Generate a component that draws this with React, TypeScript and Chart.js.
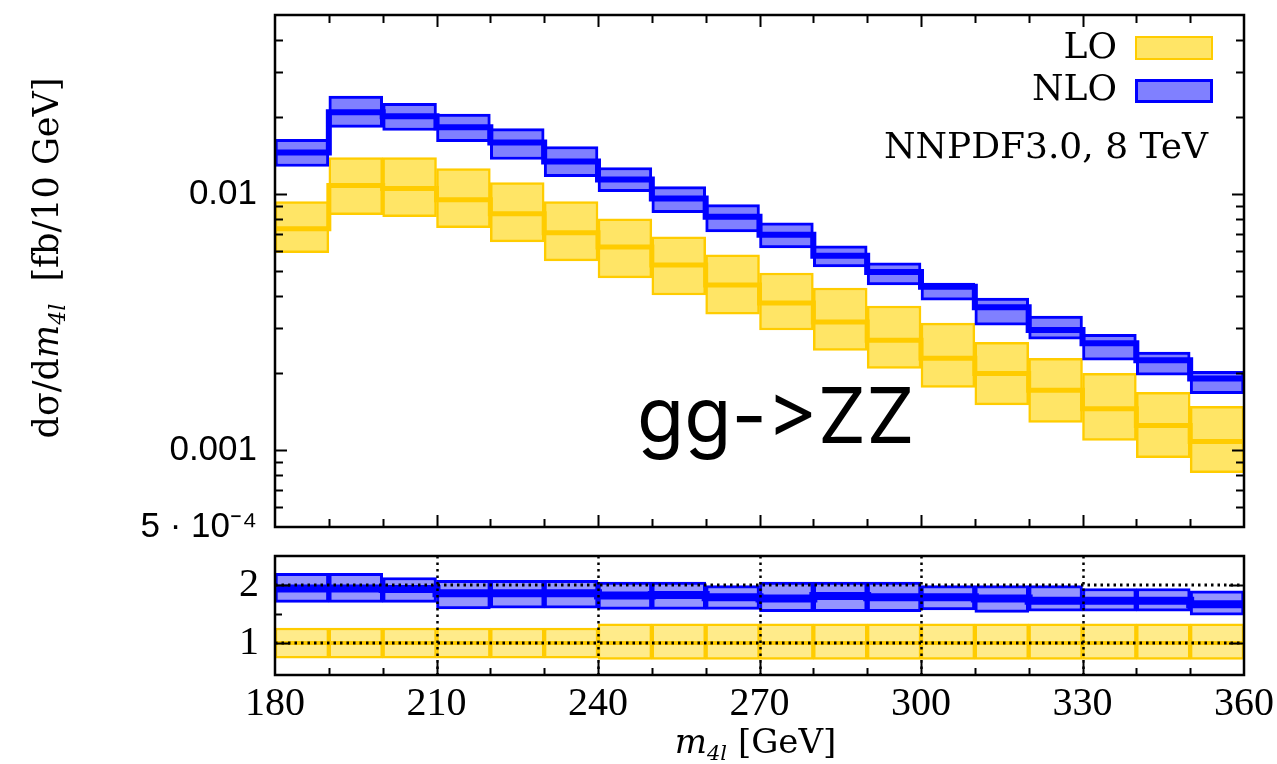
import React, { useEffect, useRef } from 'react';
import { Chart, registerables } from 'chart.js';

Chart.register(...registerables);

// ---------- data ----------
const binLow = [180, 190, 200, 210, 220, 230, 240, 250, 260, 270, 280, 290, 300, 310, 320, 330, 340, 350];
const binWidth = 10;
const xMin = 180;
const xMax = 360;

const loHigh = [0.00933, 0.01388, 0.01388, 0.01257, 0.01107, 0.00933, 0.0080, 0.0068, 0.00578, 0.00491, 0.00429, 0.00365, 0.00313, 0.00263, 0.00228, 0.00199, 0.00168, 0.00148];
const loCenter = [0.00731, 0.01078, 0.01049, 0.0095, 0.00837, 0.00705, 0.00621, 0.00528, 0.00441, 0.00375, 0.00316, 0.00268, 0.00228, 0.00199, 0.00171, 0.00145, 0.001245, 0.001078];
const loLow = [0.00589, 0.0083, 0.00815, 0.00738, 0.0065, 0.00548, 0.0047, 0.00403, 0.00339, 0.00294, 0.00245, 0.00208, 0.001755, 0.0015, 0.00128, 0.00109, 0.000933, 0.000815];

const nloHigh = [0.01633, 0.0241, 0.0226, 0.0205, 0.018, 0.01532, 0.01268, 0.01068, 0.00908, 0.00772, 0.00627, 0.00538, 0.00449, 0.00392, 0.00333, 0.00283, 0.00241, 0.00203];
const nloCenter = [0.01452, 0.02084, 0.0201, 0.0182, 0.0159, 0.0134, 0.01138, 0.00959, 0.00815, 0.00693, 0.00573, 0.00496, 0.00434, 0.00361, 0.00294, 0.00261, 0.00224, 0.0019];
const nloLow = [0.0128, 0.0182, 0.0177, 0.016, 0.01363, 0.01169, 0.0102, 0.00845, 0.00711, 0.00616, 0.00519, 0.00441, 0.00385, 0.00307, 0.00271, 0.00224, 0.00196, 0.00166];

const ratioLoHigh = [1.26, 1.26, 1.26, 1.26, 1.26, 1.26, 1.33, 1.33, 1.33, 1.33, 1.33, 1.33, 1.33, 1.33, 1.33, 1.33, 1.33, 1.33];
const ratioLoCenter = [1, 1, 1, 1, 1, 1, 1, 1, 1, 1, 1, 1, 1, 1, 1, 1, 1, 1];
const ratioLoLow = [0.74, 0.74, 0.74, 0.74, 0.74, 0.74, 0.72, 0.72, 0.72, 0.72, 0.72, 0.72, 0.72, 0.72, 0.72, 0.72, 0.72, 0.72];

const ratioNloHigh = [2.2, 2.2, 2.13, 2.08, 2.08, 2.08, 2.05, 2.05, 1.99, 2.05, 2.05, 2.05, 1.99, 1.99, 1.99, 1.94, 1.94, 1.9];
const ratioNloCenter = [1.94, 1.94, 1.93, 1.86, 1.86, 1.86, 1.82, 1.83, 1.79, 1.77, 1.81, 1.79, 1.79, 1.77, 1.73, 1.73, 1.73, 1.67];
const ratioNloLow = [1.7, 1.7, 1.7, 1.59, 1.6, 1.6, 1.58, 1.58, 1.58, 1.54, 1.54, 1.54, 1.57, 1.53, 1.55, 1.55, 1.55, 1.48];

const xTickLabels = [180, 210, 240, 270, 300, 330, 360];
const xMinorTicks = [190, 200, 220, 230, 250, 260, 280, 290, 310, 320, 340, 350];
const yLabelTicks = [0.0005, 0.001, 0.01];
const yLabelText = ['5 · 10⁻⁴', '0.001', '0.01'];
const yMajorTicks = [0.001, 0.01];
const yMinorTicks = [0.0006, 0.0007, 0.0008, 0.0009, 0.002, 0.003, 0.004, 0.005, 0.006, 0.007, 0.008, 0.009, 0.02, 0.03, 0.04];
const yMin = 0.0005;
const yMax = 0.05;

const ratioTicks = [1, 2];
const ratioMinorTicks = [1.5];
const ratioRefLines = [1, 2];
const ratioGridX = [210, 240, 270, 300, 330];
const ratioMin = 0.45;
const ratioMax = 2.5;

const legendLabels = ['LO', 'NLO'];
const pdfLabel = 'NNPDF3.0, 8 TeV';
const processLabelParts = ['gg-', '>ZZ']; // "gg->ZZ", drawn in two pieces so the font does not turn "->" into an arrow

// ---------- styles ----------
const YEL = '#ffcc00';
const YEL_FILL = '#ffe566';
const YEL_FILL_R = '#ffeb8a';
const BLU = '#0000ff';
const BLU_FILL = '#8080ff';
const BLU_FILL_R = '#9494ff';
const SERIF = '"DejaVu Serif", serif';

const boxData = (lo: number[], hi: number[]) =>
  binLow.map((x0, i) => ({ x: x0 + binWidth / 2, y: [lo[i], hi[i]] }));
const stepData = (c: number[]) => [
  ...binLow.map((x0, i) => ({ x: x0, y: c[i] })),
  { x: xMax, y: c[c.length - 1] },
];

function boxDataset(lo: number[], hi: number[], fill: string, border: string, bw: number, order: number) {
  return {
    type: 'bar' as const,
    data: boxData(lo, hi) as any,
    backgroundColor: fill,
    borderColor: border,
    borderWidth: bw,
    borderSkipped: false,
    grouped: false,
    barPercentage: 1,
    categoryPercentage: 1,
    order,
  };
}
function stepDataset(c: number[], color: string, bw: number, order: number) {
  return {
    type: 'line' as const,
    data: stepData(c) as any,
    borderColor: color,
    borderWidth: bw,
    stepped: 'before' as const,
    pointRadius: 0,
    fill: false,
    order,
  };
}

function ticksV(ctx: CanvasRenderingContext2D, scale: any, area: any, vals: number[], len: number, left = true, right = true) {
  vals.forEach((v) => {
    const y = Math.round(scale.getPixelForValue(v)) + 0.5;
    if (left) { ctx.moveTo(area.left, y); ctx.lineTo(area.left + len, y); }
    if (right) { ctx.moveTo(area.right, y); ctx.lineTo(area.right - len, y); }
  });
}
function ticksH(ctx: CanvasRenderingContext2D, scale: any, area: any, vals: number[], len: number, top = true, bottom = true) {
  vals.forEach((v) => {
    const x = Math.round(scale.getPixelForValue(v)) + 0.5;
    if (bottom) { ctx.moveTo(x, area.bottom); ctx.lineTo(x, area.bottom - len); }
    if (top) { ctx.moveTo(x, area.top); ctx.lineTo(x, area.top + len); }
  });
}

type Part = { t: string; f: string; dy?: number };
function drawParts(ctx: CanvasRenderingContext2D, parts: Part[], cx: number, baseY: number) {
  let total = 0;
  parts.forEach((p) => { ctx.font = p.f; total += ctx.measureText(p.t).width; });
  let x = cx - total / 2;
  ctx.textAlign = 'left';
  ctx.textBaseline = 'alphabetic';
  parts.forEach((p) => {
    ctx.font = p.f;
    ctx.fillText(p.t, x, baseY + (p.dy || 0));
    x += ctx.measureText(p.t).width;
  });
}

const upperDecor = {
  id: 'upperDecor',
  afterDraw(chart: any) {
    const ctx: CanvasRenderingContext2D = chart.ctx;
    const a = chart.chartArea;
    const xs = chart.scales.x;
    const ys = chart.scales.y;
    ctx.save();
    ctx.strokeStyle = '#000';
    ctx.lineWidth = 2;
    ctx.beginPath();
    ticksH(ctx, xs, a, xTickLabels.slice(1, -1), 12);
    ticksH(ctx, xs, a, xMinorTicks, 8);
    ticksV(ctx, ys, a, yMajorTicks, 12);
    ticksV(ctx, ys, a, yMinorTicks, 8);
    ctx.stroke();
    ctx.lineWidth = 2.5;
    ctx.strokeRect(a.left, a.top, a.right - a.left, a.bottom - a.top);

    // legend
    ctx.fillStyle = '#000';
    ctx.font = '36px ' + SERIF;
    ctx.textAlign = 'right';
    ctx.textBaseline = 'alphabetic';
    ctx.fillText(legendLabels[0], 1117, 58);
    ctx.fillText(legendLabels[1], 1117, 100);
    ctx.fillText(pdfLabel, 1208, 158);
    ctx.fillStyle = YEL_FILL;
    ctx.fillRect(1135, 36, 78, 24);
    ctx.strokeStyle = YEL;
    ctx.lineWidth = 2;
    ctx.strokeRect(1136, 37, 76, 22);
    ctx.fillStyle = BLU_FILL;
    ctx.fillRect(1135, 79, 78, 24);
    ctx.strokeStyle = BLU;
    ctx.lineWidth = 3;
    ctx.strokeRect(1136.5, 80.5, 75, 21);

    // process label
    ctx.fillStyle = '#000';
    ctx.font = '77px Inter, sans-serif';
    ctx.textAlign = 'left';
    let px = 637;
    processLabelParts.forEach((t) => {
      ctx.fillText(t, px, 443);
      px += ctx.measureText(t).width;
    });

    // y axis title
    ctx.translate(45, 258);
    ctx.rotate(-Math.PI / 2);
    drawParts(ctx, [
      { t: 'dσ/d', f: '35px ' + SERIF },
      { t: 'm', f: 'italic 35px ' + SERIF },
      { t: '4l', f: 'italic 22px ' + SERIF, dy: 7 },
      { t: '  [fb/10 GeV]', f: '35px ' + SERIF },
    ], 0, 13);
    ctx.restore();
  },
};

const lowerDecor = {
  id: 'lowerDecor',
  afterDatasetsDraw(chart: any) {
    const ctx: CanvasRenderingContext2D = chart.ctx;
    const a = chart.chartArea;
    const xs = chart.scales.x;
    ctx.save();
    ctx.strokeStyle = '#000';
    ctx.lineWidth = 2.5;
    ctx.setLineDash([2.5, 4]);
    ctx.beginPath();
    ratioGridX.forEach((v) => {
      const x = Math.round(xs.getPixelForValue(v)) + 0.5;
      ctx.moveTo(x, a.top);
      ctx.lineTo(x, a.bottom);
    });
    ctx.stroke();
    ctx.restore();
  },
  afterDraw(chart: any) {
    const ctx: CanvasRenderingContext2D = chart.ctx;
    const a = chart.chartArea;
    const xs = chart.scales.x;
    const ys = chart.scales.y;
    ctx.save();
    ctx.strokeStyle = '#000';
    ctx.lineWidth = 2;
    ctx.beginPath();
    ticksH(ctx, xs, a, ratioGridX, 13, false, true);
    ticksH(ctx, xs, a, xMinorTicks, 7, false, true);
    ticksV(ctx, ys, a, ratioTicks, 15);
    ticksV(ctx, ys, a, ratioMinorTicks, 7, true, false);
    ctx.stroke();
    ctx.lineWidth = 2.5;
    ctx.strokeRect(a.left, a.top, a.right - a.left, a.bottom - a.top);

    ctx.fillStyle = '#000';
    drawParts(ctx, [
      { t: 'm', f: 'italic 34px ' + SERIF },
      { t: '4l', f: 'italic 21px ' + SERIF, dy: 7 },
      { t: ' [GeV]', f: '34px ' + SERIF },
    ], (a.left + a.right) / 2 - 4, 208);
    ctx.restore();
  },
};

export default function App() {
  const topRef = useRef<HTMLCanvasElement>(null);
  const botRef = useRef<HTMLCanvasElement>(null);

  useEffect(() => {
    const common: any = {
      responsive: false,
      animation: false,
      events: [],
      plugins: { legend: { display: false }, tooltip: { enabled: false } },
    };

    const top = new Chart(topRef.current!, {
      type: 'bar',
      data: {
        datasets: [
          boxDataset(loLow, loHigh, YEL_FILL, YEL, 2.5, 4),
          stepDataset(loCenter, YEL, 5, 3),
          boxDataset(nloLow, nloHigh, BLU_FILL, BLU, 3, 2),
          stepDataset(nloCenter, BLU, 6, 1),
        ] as any,
      },
      options: {
        ...common,
        layout: { padding: { top: 15, right: 33, bottom: 18, left: 0 } },
        scales: {
          x: { type: 'linear', min: xMin, max: xMax, offset: false, display: false },
          y: {
            type: 'logarithmic',
            min: yMin,
            max: yMax,
            border: { display: false },
            grid: { display: false, drawTicks: false },
            afterBuildTicks: (s: any) => { s.ticks = yLabelTicks.map((v) => ({ value: v })); },
            afterFit: (s: any) => { s.width = 275; s.paddingTop = 0; s.paddingBottom = 0; },
            ticks: {
              autoSkip: false,
              padding: 18,
              color: '#000',
              font: { family: '"Liberation Sans", sans-serif', size: 35 },
              callback: (_v: any, i: number) => yLabelText[i],
            },
          },
        },
      },
      plugins: [upperDecor],
    } as any);

    const bot = new Chart(botRef.current!, {
      type: 'bar',
      data: {
        datasets: [
          boxDataset(ratioLoLow, ratioLoHigh, YEL_FILL_R, YEL, 2.5, 6),
          stepDataset(ratioLoCenter, YEL, 4, 5),
          boxDataset(ratioNloLow, ratioNloHigh, BLU_FILL_R, BLU, 3, 4),
          stepDataset(ratioNloCenter, BLU, 8, 3),
          ...ratioRefLines.map((r) => ({
            type: 'line' as const,
            data: [{ x: xMin, y: r }, { x: xMax, y: r }],
            borderColor: '#000',
            borderWidth: 3,
            borderDash: [2.5, 4],
            pointRadius: 0,
            fill: false,
            order: 0,
          })),
        ] as any,
      },
      options: {
        ...common,
        layout: { padding: { top: 11, right: 33, bottom: 0, left: 0 } },
        scales: {
          x: {
            type: 'linear',
            min: xMin,
            max: xMax,
            offset: false,
            border: { display: false },
            grid: { display: false, drawTicks: false },
            afterBuildTicks: (s: any) => { s.ticks = xTickLabels.map((v) => ({ value: v })); },
            afterFit: (s: any) => { s.height = 89; s.paddingLeft = 0; s.paddingRight = 0; },
            ticks: {
              autoSkip: false,
              maxRotation: 0,
              padding: 5,
              color: '#000',
              font: { family: '"Liberation Serif", serif', size: 40 },
              callback: (v: any) => String(v),
            },
          },
          y: {
            type: 'linear',
            min: ratioMin,
            max: ratioMax,
            border: { display: false },
            grid: { display: false, drawTicks: false },
            afterBuildTicks: (s: any) => { s.ticks = ratioTicks.map((v) => ({ value: v })); },
            afterFit: (s: any) => { s.width = 275; s.paddingTop = 0; s.paddingBottom = 0; },
            ticks: {
              autoSkip: false,
              padding: 16,
              color: '#000',
              font: { family: '"Liberation Serif", serif', size: 40 },
              callback: (v: any) => String(v),
            },
          },
        },
      },
      plugins: [lowerDecor],
    } as any);

    return () => { top.destroy(); bot.destroy(); };
  }, []);

  return (
    <div style={{ position: 'absolute', left: 0, top: 0, width: 1277, height: 764, background: '#fff', overflow: 'hidden' }}>
      <canvas ref={topRef} width={1277} height={545} style={{ position: 'absolute', left: 0, top: 0, width: 1277, height: 545 }} />
      <canvas ref={botRef} width={1277} height={219} style={{ position: 'absolute', left: 0, top: 545, width: 1277, height: 219 }} />
    </div>
  );
}
